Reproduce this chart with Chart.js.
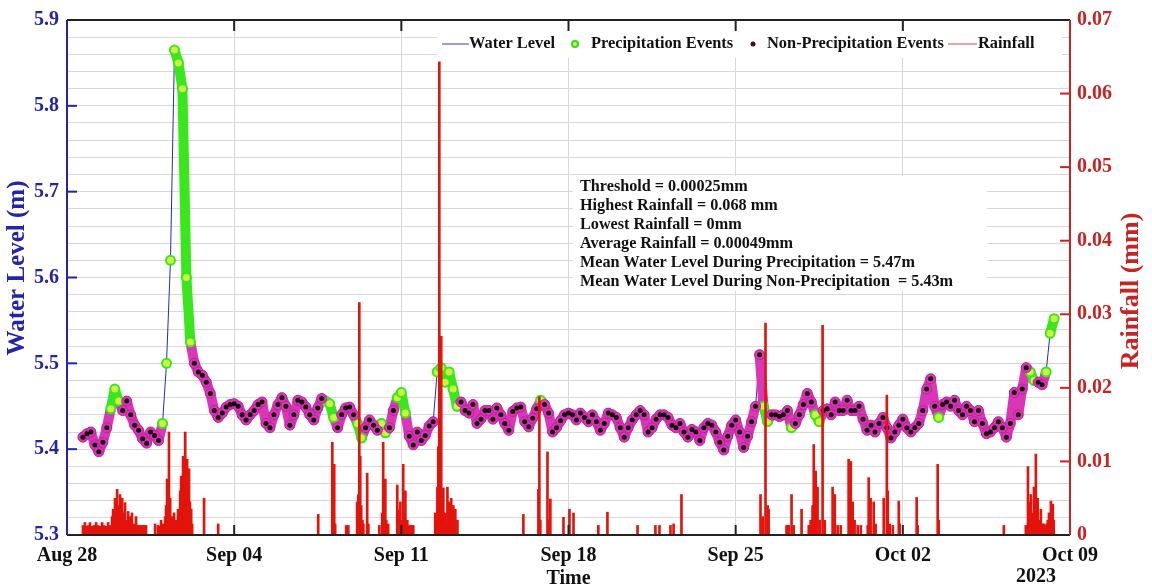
<!DOCTYPE html>
<html>
<head>
<meta charset="utf-8">
<script src="https://cdn.jsdelivr.net/npm/chart.js@4.4.1/dist/chart.umd.min.js"></script>
<style>
  html, body { margin: 0; padding: 0; background: #fff; }
  canvas { display: block; }
</style>
</head>
<body>
<canvas id="chart" width="1152" height="588"></canvas>
<script>
// x axis is days since Aug 28 2023
const xTickLabels = ["Aug 28", "Sep 04", "Sep 11", "Sep 18", "Sep 25", "Oct 02", "Oct 09"];
const yearLabel = "2023";

// water level (m), one reading every 4 hours from Aug 28 00:00
const levelStepHours = 4;
const levelValues = [
  null, null, null, null, 5.414, 5.418,
  5.42, 5.405, 5.397, 5.408, 5.425, 5.447,
  5.47, 5.456, 5.445, 5.456, 5.44, 5.428,
  5.422, 5.412, 5.407, 5.42, 5.416, 5.41,
  5.43, 5.50, 5.62, 5.865, 5.85, 5.82,
  5.60, 5.525, 5.50, 5.49, 5.486, 5.478,
  5.465, 5.445, 5.437, 5.442, 5.449, 5.452,
  5.453, 5.45, 5.44, 5.434, 5.44, 5.445,
  5.452, 5.455, 5.43, 5.425, 5.44, 5.452,
  5.46, 5.45, 5.428, 5.44, 5.457, 5.455,
  5.449, 5.44, 5.434, 5.448, 5.459, 5.456,
  5.453, 5.437, 5.425, 5.44, 5.448, 5.449,
  5.44, 5.43, 5.413, 5.425, 5.434, 5.428,
  5.422, 5.43, 5.419, 5.425, 5.445, 5.46,
  5.466, 5.442, 5.415, 5.405, 5.42, 5.41,
  5.416, 5.427, 5.432, 5.49, 5.495, 5.478,
  5.49, 5.47, 5.45, 5.455, 5.445, 5.442,
  5.452, 5.43, 5.435, 5.445, 5.445, 5.435,
  5.448, 5.44, 5.43, 5.422, 5.444, 5.448,
  5.449, 5.432, 5.426, 5.436, 5.447, 5.457,
  5.452, 5.442, 5.42, 5.425, 5.433, 5.44,
  5.442, 5.44, 5.434, 5.442, 5.437, 5.432,
  5.44, 5.432, 5.422, 5.43, 5.442, 5.44,
  5.437, 5.425, 5.414, 5.425, 5.434, 5.44,
  5.445, 5.44, 5.42, 5.425, 5.435, 5.44,
  5.44, 5.437, 5.428, 5.425, 5.43, 5.42,
  5.414, 5.423, 5.42, 5.41, 5.425, 5.43,
  5.428, 5.42, 5.408, 5.399, 5.415, 5.428,
  5.434, 5.42, 5.402, 5.415, 5.432, 5.45,
  5.51, 5.45, 5.432, 5.44, 5.44, 5.438,
  5.44, 5.445, 5.425, 5.43, 5.44, 5.452,
  5.465, 5.455, 5.44, 5.432, 5.445, 5.447,
  5.44, 5.455, 5.445, 5.445, 5.457, 5.445,
  5.445, 5.45, 5.435, 5.422, 5.428, 5.42,
  5.43, 5.437, 5.425, 5.413, 5.42, 5.428,
  5.435, 5.425, 5.42, 5.425, 5.43, 5.445,
  5.47, 5.482, 5.45, 5.437, 5.452, 5.455,
  5.45, 5.457, 5.445, 5.44, 5.45, 5.445,
  5.432, 5.445, 5.43, 5.418, 5.42, 5.425,
  5.432, 5.425, 5.414, 5.43, 5.466, 5.44,
  5.47, 5.495, 5.49, 5.48, 5.478, 5.475,
  5.49, 5.535, 5.552, null, null, null
];

// periods (days) flagged as precipitation events
const precipWindows = [
  [1.8, 2.25], [3.95, 5.3], [10.8, 11.3], [12.1, 12.45], [13.15, 13.4],
  [13.8, 14.3], [15.4, 16.4], [19.72, 19.86], [29.1, 29.45], [30.3, 30.45],
  [31.2, 31.55], [36.4, 36.55], [40.2, 40.65], [41.0, 41.4]
];

// rainfall spikes: day and amount (mm)
const rainDays = [
  0.67, 0.75, 0.84, 0.90, 0.96, 1.05, 1.13, 1.22, 1.30, 1.38, 1.47, 1.55, 1.63, 1.72, 1.80,
  1.89, 1.93, 1.97, 2.01, 2.06, 2.10, 2.14, 2.18, 2.22, 2.27, 2.31, 2.35, 2.39, 2.43, 2.47,
  2.51, 2.56, 2.60, 2.64, 2.68, 2.72, 2.77, 2.81, 2.85, 2.89, 2.94, 2.98, 3.06, 3.14, 3.23, 3.31,
  3.69, 3.81, 3.90, 3.94, 4.02, 4.06, 4.11, 4.15, 4.19, 4.23, 4.27, 4.32, 4.36, 4.40, 4.44,
  4.48, 4.52, 4.57, 4.61, 4.65, 4.70, 4.74, 4.78, 4.82, 4.86, 4.90, 4.95, 4.99, 5.03, 5.07,
  5.11, 5.15, 5.20, 5.24, 5.74, 6.33,
  10.52, 11.11, 11.15, 11.19, 11.23, 11.69, 11.78, 12.15, 12.20, 12.24, 12.28, 12.32, 12.37,
  12.41, 12.57, 12.62, 13.08, 13.20, 13.24, 13.28, 13.33, 13.37, 13.45, 13.83, 13.87, 13.96,
  14.04, 14.08, 14.12, 14.17, 14.21, 14.25, 14.33, 14.42, 14.50,
  15.42, 15.47, 15.51, 15.55, 15.59, 15.63, 15.67, 15.71, 15.76, 15.80, 15.84, 15.88, 15.93,
  15.97, 16.01, 16.05, 16.09, 16.13, 16.18, 16.22, 16.26, 16.35,
  19.11, 19.74, 19.78, 19.82, 20.12, 20.16, 20.24, 20.79, 21.04, 21.21,
  22.25, 22.63, 23.89, 24.64, 24.81, 25.27, 25.40, 25.73,
  29.04, 29.13, 29.25, 29.34, 29.38, 30.13, 30.18, 30.22, 30.34, 30.43, 30.76,
  31.06, 31.14, 31.22, 31.27, 31.31, 31.35, 31.43, 31.52, 31.64, 31.73,
  32.06, 32.15, 32.27, 32.40, 32.73, 32.77, 32.82, 32.90, 32.98, 33.11, 33.24,
  33.53, 33.57, 33.65, 33.78, 33.86, 34.20, 34.33, 34.37, 34.45, 34.58, 34.83, 34.87,
  35.58, 35.62, 36.46, 36.50, 39.23,
  40.15, 40.24, 40.28, 40.32, 40.36, 40.40, 40.49, 40.53, 40.57, 40.61, 40.65, 40.70,
  40.78, 40.86, 40.91, 40.99, 41.03, 41.07, 41.12, 41.16, 41.20, 41.24, 41.28, 41.32
];
const rainValues = [
  0.0013, 0.0017, 0.0012, 0.0013, 0.0017, 0.0012, 0.0013, 0.0017, 0.0013, 0.0012, 0.0017, 0.0013, 0.0012, 0.0017, 0.0013,
  0.0025, 0.0035, 0.0020, 0.0050, 0.0030, 0.0062, 0.0035, 0.0040, 0.0055, 0.0025, 0.0050, 0.0020, 0.0030, 0.0044, 0.0015,
  0.0020, 0.0032, 0.0013, 0.0025, 0.0013, 0.0030, 0.0013, 0.0015, 0.0013, 0.0025, 0.0013, 0.0013, 0.0013, 0.0013, 0.0013, 0.0013,
  0.0015, 0.0013, 0.0012, 0.0020, 0.0015, 0.0013, 0.0025, 0.0040, 0.0076, 0.0050, 0.0140, 0.0050, 0.0015, 0.0025, 0.0015,
  0.0030, 0.0013, 0.0020, 0.0013, 0.0035, 0.0030, 0.0060, 0.0080, 0.0075, 0.0107, 0.0090, 0.0140, 0.0088, 0.0103, 0.0060,
  0.0090, 0.0045, 0.0035, 0.0015, 0.0050, 0.0015,
  0.0028, 0.0126, 0.0040, 0.0096, 0.0015, 0.0013, 0.0013, 0.0045, 0.0055, 0.0316, 0.0107, 0.0040, 0.0020,
  0.0015, 0.0084, 0.0015, 0.0013, 0.0030, 0.0126, 0.0050, 0.0076, 0.0020, 0.0015, 0.0068, 0.0034, 0.0045,
  0.0020, 0.0096, 0.0030, 0.0060, 0.0020, 0.0020, 0.0013, 0.0013, 0.0013,
  0.0030, 0.0020, 0.0065, 0.0120, 0.0643, 0.0150, 0.0270, 0.0040, 0.0064, 0.0020, 0.0030, 0.0015, 0.0065,
  0.0025, 0.0045, 0.0030, 0.0050, 0.0035, 0.0040, 0.0020, 0.0035, 0.0020,
  0.0028, 0.0062, 0.0188, 0.0020, 0.0113, 0.0020, 0.0049, 0.0024, 0.0035, 0.0030,
  0.0013, 0.0031, 0.0013, 0.0013, 0.0013, 0.0013, 0.0015, 0.0055,
  0.0055, 0.0025, 0.0288, 0.0040, 0.0035, 0.0013, 0.0013, 0.0013, 0.0055, 0.0013, 0.0035,
  0.0013, 0.0020, 0.0040, 0.0123, 0.0060, 0.0087, 0.0065, 0.0020, 0.0285, 0.0020,
  0.0065, 0.0055, 0.0013, 0.0013, 0.0103, 0.0060, 0.0100, 0.0045, 0.0020, 0.0013, 0.0013,
  0.0013, 0.0078, 0.0050, 0.0045, 0.0015, 0.0050, 0.0190, 0.0060, 0.0015, 0.0013, 0.0046, 0.0015,
  0.0051, 0.0013, 0.0096, 0.0020, 0.0013,
  0.0013, 0.0093, 0.0045, 0.0025, 0.0055, 0.0030, 0.0065, 0.0040, 0.0110, 0.0030, 0.0050, 0.0020,
  0.0035, 0.0015, 0.0015, 0.0013, 0.0015, 0.0020, 0.0030, 0.0015, 0.0046, 0.0025, 0.0042, 0.0020
];

const statsLines = [
  "Threshold = 0.00025mm",
  "Highest Rainfall = 0.068 mm",
  "Lowest Rainfall = 0mm",
  "Average Rainfall = 0.00049mm",
  "Mean Water Level During Precipitation = 5.47m",
  "Mean Water Level During Non-Precipitation  = 5.43m"
];

const FONT = "'Liberation Serif', 'DejaVu Serif', serif";
const BLUE = "#2424a8";
const RED = "#c62323";
const GRID = "#d8d8d8";
const MAGENTA = "#d936b8";
const GREEN = "#3ae61c";

const levelPoints = levelValues.map((v, i) => ({ x: i * levelStepHours / 24, y: v }));
const isPrecip = d => precipWindows.some(([a, b]) => d >= a && d <= b);
const precipPoints = levelPoints.filter(p => p.y !== null && isPrecip(p.x));
const dryPoints = levelPoints.filter(p => p.y !== null && !isPrecip(p.x));
const rainPoints = rainDays.map((d, i) => ({ x: d, y: rainValues[i] }));

// dense marker band: colour by event type, left open on steep rises
const bandColor = ctx => {
  if (ctx.p1.parsed.y - ctx.p0.parsed.y > 0.04) return "rgba(0,0,0,0)";
  return isPrecip(ctx.p0.parsed.x) && isPrecip(ctx.p1.parsed.x) ? GREEN : MAGENTA;
};

function rotatedText(ctx, text, x, y, color, size) {
  ctx.save();
  ctx.translate(x, y);
  ctx.rotate(-Math.PI / 2);
  ctx.fillStyle = color;
  ctx.font = "bold " + size + "px " + FONT;
  ctx.textAlign = "center";
  ctx.textBaseline = "middle";
  ctx.fillText(text, 0, 0);
  ctx.restore();
}

// frame, inward ticks, axis titles, legend and the stats box
const decor = {
  id: "decor",
  afterDraw(chart) {
    const { ctx, chartArea: a, scales } = chart;
    ctx.save();

    // stats box
    ctx.fillStyle = "#fff";
    ctx.fillRect(573, 176, 414, 115);
    ctx.fillStyle = "#111";
    ctx.font = "bold 16.2px " + FONT;
    ctx.textBaseline = "middle";
    ctx.textAlign = "left";
    statsLines.forEach((t, i) => ctx.fillText(t, 580, 187 + i * 19));

    // legend
    ctx.fillStyle = "#fff";
    ctx.fillRect(437, 31, 625, 27);
    const ly = 44;
    ctx.font = "bold 16.4px " + FONT;
    ctx.fillStyle = "#111";
    ctx.strokeStyle = "#3b3bb3";
    ctx.lineWidth = 1;
    ctx.beginPath(); ctx.moveTo(442, ly); ctx.lineTo(469, ly); ctx.stroke();
    ctx.fillText("Water Level", 469, ly);
    ctx.beginPath(); ctx.arc(575, ly, 3, 0, Math.PI * 2);
    ctx.fillStyle = "#d8ff4a"; ctx.fill();
    ctx.strokeStyle = "#35d61c"; ctx.lineWidth = 2; ctx.stroke();
    ctx.fillStyle = "#111";
    ctx.fillText("Precipitation Events", 591, ly);
    ctx.beginPath(); ctx.arc(753, ly, 2.5, 0, Math.PI * 2);
    ctx.fillStyle = "#4d0a1f"; ctx.fill();
    ctx.fillStyle = "#111";
    ctx.fillText("Non-Precipitation Events", 767, ly);
    ctx.strokeStyle = "#c05050"; ctx.lineWidth = 1;
    ctx.beginPath(); ctx.moveTo(948, ly); ctx.lineTo(977, ly); ctx.stroke();
    ctx.fillText("Rainfall", 978, ly);

    // year under the last date
    ctx.font = "bold 20px " + FONT;
    ctx.textAlign = "center";
    ctx.fillText(yearLabel, 1036, 577);

    // axis titles
    rotatedText(ctx, "Water Level (m)", 18, 268, BLUE, 25);
    rotatedText(ctx, "Rainfall (mm)", 1131, 291, RED, 26);

    // inward ticks
    ctx.lineWidth = 2;
    ctx.strokeStyle = BLUE;
    scales.y.ticks.filter(t => t.label !== "").forEach(t => {
      const y = scales.y.getPixelForValue(t.value);
      ctx.beginPath(); ctx.moveTo(a.left, y); ctx.lineTo(a.left + 10, y); ctx.stroke();
    });
    ctx.strokeStyle = RED;
    scales.y1.ticks.forEach(t => {
      const y = scales.y1.getPixelForValue(t.value);
      ctx.beginPath(); ctx.moveTo(a.right - 10, y); ctx.lineTo(a.right, y); ctx.stroke();
    });
    ctx.strokeStyle = "#222";
    scales.x.ticks.forEach(t => {
      const x = scales.x.getPixelForValue(t.value);
      ctx.beginPath(); ctx.moveTo(x, a.top); ctx.lineTo(x, a.top + 11); ctx.stroke();
      ctx.beginPath(); ctx.moveTo(x, a.bottom); ctx.lineTo(x, a.bottom - 10); ctx.stroke();
    });

    // frame
    ctx.strokeStyle = "#222";
    ctx.beginPath(); ctx.moveTo(a.left, a.top); ctx.lineTo(a.right, a.top); ctx.stroke();
    ctx.beginPath(); ctx.moveTo(a.left, a.bottom); ctx.lineTo(a.right, a.bottom); ctx.stroke();
    ctx.strokeStyle = BLUE;
    ctx.beginPath(); ctx.moveTo(a.left, a.top); ctx.lineTo(a.left, a.bottom); ctx.stroke();
    ctx.strokeStyle = RED;
    ctx.beginPath(); ctx.moveTo(a.right, a.top); ctx.lineTo(a.right, a.bottom); ctx.stroke();
    ctx.restore();
  }
};

new Chart(document.getElementById("chart"), {
  data: {
    datasets: [
      {
        type: "bar", label: "Rainfall", data: rainPoints, yAxisID: "y1",
        backgroundColor: "#e3140c", barThickness: 2, order: 0
      },
      {
        type: "line", label: "Non-Precipitation Events", data: dryPoints, yAxisID: "y",
        showLine: false, pointRadius: 2.5, pointBorderWidth: 0,
        pointBackgroundColor: "#140508", order: 1
      },
      {
        type: "line", label: "", data: dryPoints, yAxisID: "y",
        showLine: false, pointRadius: 5, pointBorderWidth: 1,
        pointBackgroundColor: MAGENTA, pointBorderColor: "#b8249a", order: 2
      },
      {
        type: "line", label: "Precipitation Events", data: precipPoints, yAxisID: "y",
        showLine: false, pointRadius: 4.5, pointBorderWidth: 2,
        pointBackgroundColor: "#ccf542", pointBorderColor: GREEN, order: 3
      },
      {
        type: "line", label: "", data: levelPoints, yAxisID: "y",
        borderWidth: 10, pointRadius: 0, borderJoinStyle: "round", borderCapStyle: "round",
        segment: { borderColor: bandColor }, order: 4
      },
      {
        type: "line", label: "Water Level", data: levelPoints, yAxisID: "y",
        borderColor: "#2b2bb0", borderWidth: 1, pointRadius: 0, order: 5
      }
    ]
  },
  options: {
    responsive: false,
    animation: false,
    devicePixelRatio: 1,
    layout: { padding: { top: 18 } },
    plugins: { legend: { display: false }, tooltip: { enabled: false } },
    scales: {
      x: {
        type: "linear", min: 0, max: 42, offset: false,
        afterFit(s) { s.height = 53; },
        ticks: {
          stepSize: 7, autoSkip: false, maxRotation: 0, padding: 9, color: "#111",
          font: { family: FONT, size: 20, weight: "bold" },
          callback: v => xTickLabels[Math.round(v / 7)]
        },
        grid: { color: GRID, drawTicks: false, offset: false },
        border: { display: false },
        title: {
          display: true, text: "Time", color: "#111", padding: 0,
          font: { family: FONT, size: 20, weight: "bold", lineHeight: 0.9 }
        }
      },
      y: {
        position: "left", min: 5.3, max: 5.9,
        afterFit(s) { s.width = 67; },
        ticks: {
          stepSize: 0.02, autoSkip: false, padding: 8, color: BLUE,
          font: { family: FONT, size: 20, weight: "bold" },
          callback: v => {
            const r = Math.round(v * 100);
            return r % 10 === 0 ? (r / 100).toFixed(1) : "";
          }
        },
        grid: { color: GRID, drawTicks: false },
        border: { display: false }
      },
      y1: {
        position: "right", min: 0, max: 0.07,
        afterFit(s) { s.width = 82; },
        ticks: {
          stepSize: 0.01, autoSkip: false, padding: 7, color: RED,
          font: { family: FONT, size: 20, weight: "bold" },
          callback: v => (Math.abs(v) < 1e-9 ? "0" : v.toFixed(2))
        },
        grid: { drawOnChartArea: false, drawTicks: false },
        border: { display: false }
      }
    }
  },
  plugins: [decor]
});
</script>
</body>
</html>
